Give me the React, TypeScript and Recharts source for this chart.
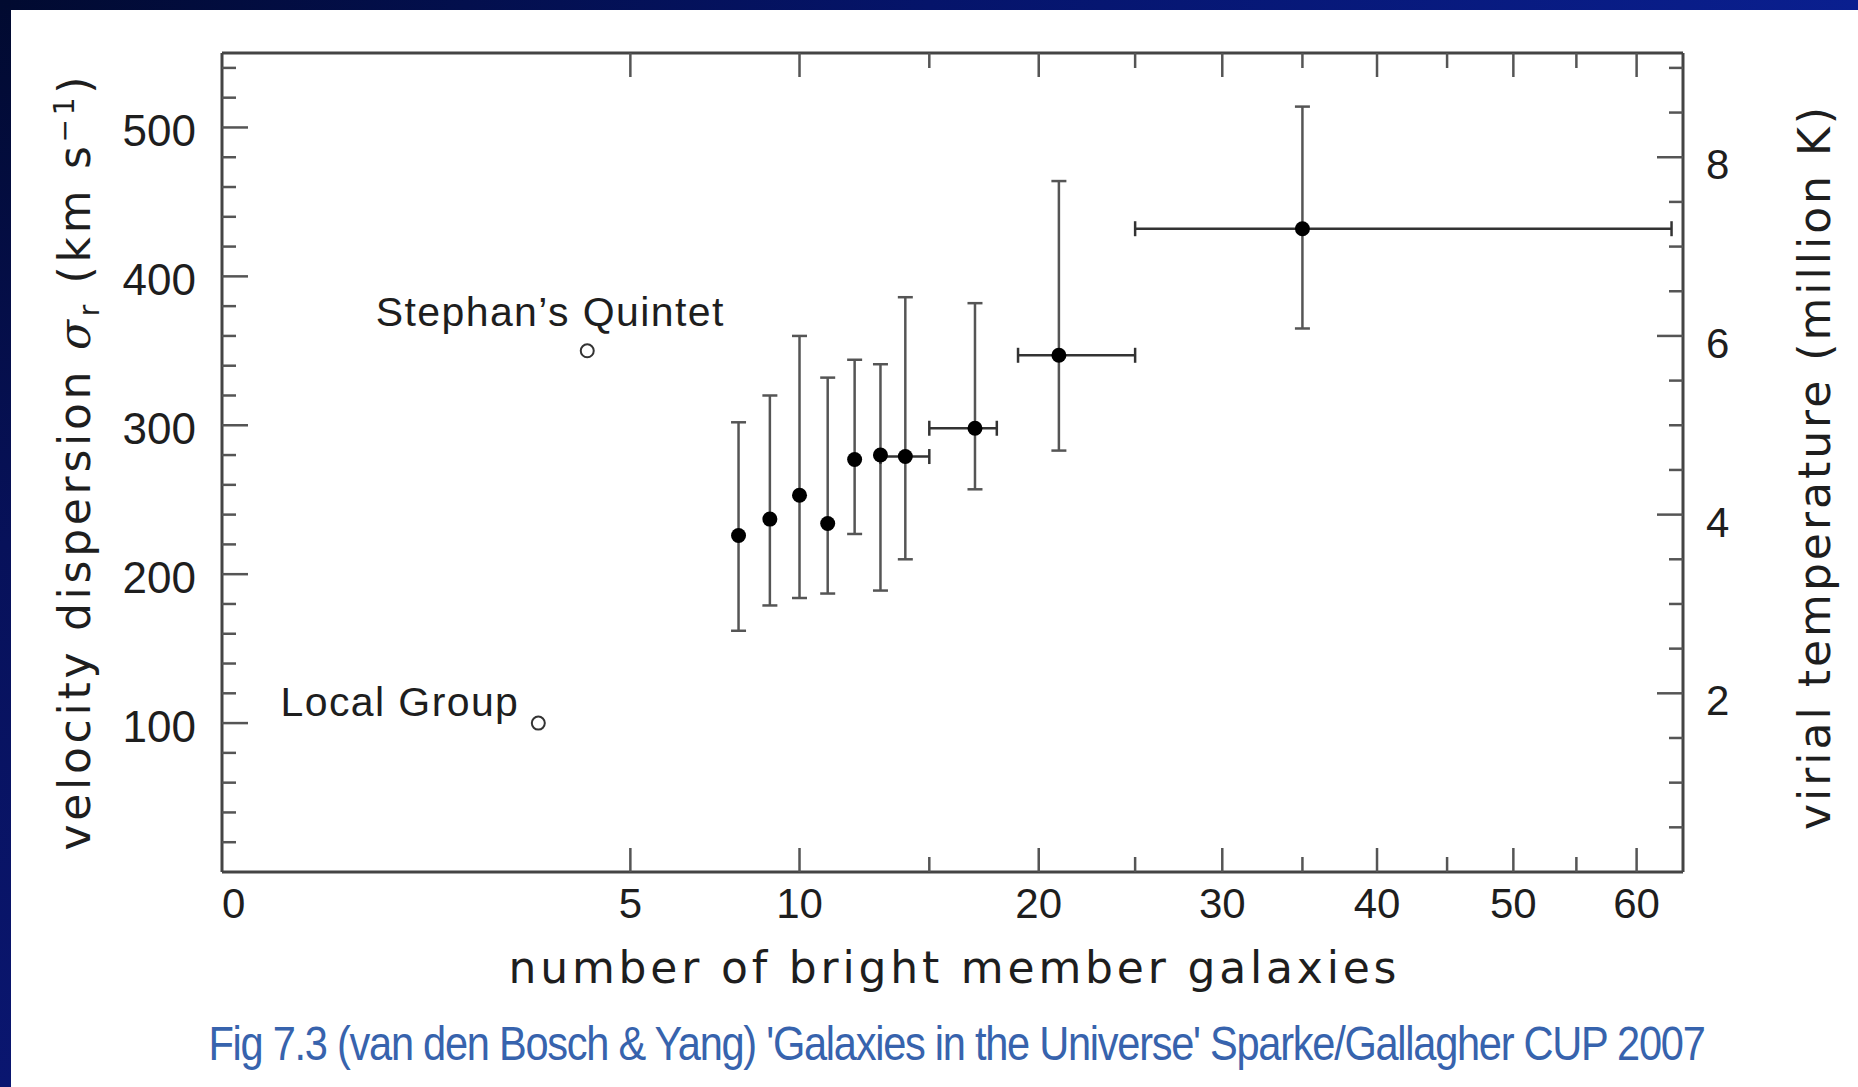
import React from 'react';
import { ComposedChart, Scatter, XAxis, YAxis, ErrorBar } from 'recharts';

// Galaxy groups binned by number of bright members
const memberCounts = [8, 9, 10, 11, 12, 13, 14, 17, 21, 35];
const dispersions = [226, 237, 253, 234, 277, 280, 279, 298, 347, 432];
const dispersionLow = [162, 179, 184, 187, 227, 189, 210, 257, 283, 365];
const dispersionHigh = [302, 320, 360, 332, 344, 341, 386, 382, 464, 514];
// bin edges in member count (only where the bin spans several counts)
const binLow: (number | null)[] = [null, null, null, null, null, null, 13, 15, 19, 25];
const binHigh: (number | null)[] = [null, null, null, null, null, null, 15, 18, 25, 63];

// well-known individual groups
const namedGroups = ['Local Group', "Stephan\u2019s Quintet"];
const namedCounts = [3, 4];
const namedDispersions = [100, 350];

// axis ticks
const countTicks = [0, 5, 10, 15, 20, 25, 30, 35, 40, 45, 50, 55, 60];
const countLabels = [0, 5, 10, 20, 30, 40, 50, 60];
const dispersionTicks = [20, 40, 60, 80, 100, 120, 140, 160, 180, 200, 220, 240, 260, 280, 300, 320, 340, 360, 380, 400, 420, 440, 460, 480, 500, 520, 540];
const dispersionLabels = [100, 200, 300, 400, 500];
const temperatureTicks = [0.5, 1, 1.5, 2, 2.5, 3, 3.5, 4, 4.5, 5, 5.5, 6, 6.5, 7, 7.5, 8, 8.5, 9];
const temperatureLabels = [2, 4, 6, 8];

const COUNT_MAX = 64;
const DISPERSION_MAX = 550;
const KMS_PER_MILLION_K = 60;

const groupData = memberCounts.map((n, i) => ({
  n,
  sigma: dispersions[i],
  sigmaErr: [dispersions[i] - dispersionLow[i], dispersionHigh[i] - dispersions[i]],
  nErr: binLow[i] == null ? undefined : [n - (binLow[i] as number), (binHigh[i] as number) - n],
}));

// same groups expressed as virial temperature, used by the mirrored top/right axes
const temperatureData = memberCounts.map((n, i) => ({ n, t: dispersions[i] / KMS_PER_MILLION_K }));

const namedData = namedGroups.map((name, i) => ({ name, n: namedCounts[i], sigma: namedDispersions[i] }));

// layout
const W = 1858;
const H = 1087;
const PLOT = { left: 222, right: 1683, top: 53, bottom: 872 };
const AXIS_W = 100;
const AXIS_H = 100;

const AXIS_COLOR = '#444';
const TICK_COLOR = '#555';
const TEXT_COLOR = '#1e1e1e';
const NUM_FONT = '"Liberation Sans", Arial, Helvetica, sans-serif';
const TITLE_FONT = '"DejaVu Sans", "Noto Sans", sans-serif';

const MAJOR = 26;
const MINOR = 14;

const BottomTick = (props: any) => {
  const { x, y, payload } = props;
  const v = payload.value;
  const major = countLabels.includes(v);
  return (
    <g>
      {v > 0 && (
        <line x1={x} x2={x} y1={y} y2={y - (major ? 24 : 15)} stroke={TICK_COLOR} strokeWidth={2.5} />
      )}
      {major && (
        <text x={x} y={y + 46} textAnchor={v === 0 ? 'start' : 'middle'} fontFamily={NUM_FONT} fontSize={42} fill={TEXT_COLOR}>
          {v}
        </text>
      )}
    </g>
  );
};

const TopTick = (props: any) => {
  const { x, y, payload } = props;
  const v = payload.value;
  if (v <= 0) return <g />;
  const major = countLabels.includes(v);
  return <line x1={x} x2={x} y1={y} y2={y + (major ? 24 : 15)} stroke={TICK_COLOR} strokeWidth={2.5} />;
};

const LeftTick = (props: any) => {
  const { x, y, payload } = props;
  const v = payload.value;
  const major = dispersionLabels.includes(v);
  return (
    <g>
      <line x1={x} x2={x + (major ? MAJOR : MINOR)} y1={y} y2={y} stroke={TICK_COLOR} strokeWidth={2.5} />
      {major && (
        <text x={x - 26} y={y + 19} textAnchor="end" fontFamily={NUM_FONT} fontSize={44} fill={TEXT_COLOR}>
          {v}
        </text>
      )}
    </g>
  );
};

const RightTick = (props: any) => {
  const { x, y, payload } = props;
  const v = payload.value;
  const major = temperatureLabels.includes(v);
  return (
    <g>
      <line x1={x} x2={x - (major ? MAJOR : MINOR)} y1={y} y2={y} stroke={TICK_COLOR} strokeWidth={2.5} />
      {major && (
        <text x={x + 23} y={y + 22} textAnchor="start" fontFamily={NUM_FONT} fontSize={42} fill={TEXT_COLOR}>
          {v}
        </text>
      )}
    </g>
  );
};

const FilledDot = (props: any) => <circle cx={props.cx} cy={props.cy} r={7.5} fill="#000" />;
const NoMark = () => <g />;

// open circle with the group's name beside it
const NamedGroupMarker = (props: any) => {
  const { cx, cy, payload } = props;
  const leftSide = payload.name === namedGroups[0];
  return (
    <g>
      <circle cx={cx} cy={cy} r={6.5} fill="#fff" stroke="#333" strokeWidth={2} />
      <text
        x={leftSide ? cx - 19 : cx - 37}
        y={leftSide ? cy - 7 : cy - 25}
        textAnchor={leftSide ? 'end' : 'middle'}
        fontFamily={NUM_FONT}
        fontSize={41}
        letterSpacing={1.4}
        fill={TEXT_COLOR}
      >
        {payload.name}
      </text>
    </g>
  );
};

export default function App() {
  const midX = (PLOT.left + PLOT.right) / 2;
  const midY = (PLOT.top + PLOT.bottom) / 2;
  return (
    <div style={{ position: 'absolute', left: 0, top: 0, width: W, height: H, background: '#fff', overflow: 'hidden' }}>
      <div style={{ position: 'absolute', left: 0, top: 0, width: W, height: 10, background: 'linear-gradient(to right, #010a30, #05146a 50%, #0a1f8f)' }} />
      <div style={{ position: 'absolute', left: 0, top: 0, width: 11, height: H, background: 'linear-gradient(to bottom, #010a30, #07115a 50%, #0a1670)' }} />
      <div style={{ position: 'absolute', left: 0, top: 0 }}>
        <ComposedChart
          width={W}
          height={H}
          margin={{ left: PLOT.left - AXIS_W, right: W - PLOT.right - AXIS_W, top: PLOT.top - 1, bottom: H - PLOT.bottom - AXIS_H }}
        >
          <XAxis
            xAxisId="count"
            dataKey="n"
            type="number"
            scale="sqrt"
            domain={[0, COUNT_MAX]}
            ticks={countTicks}
            interval={0}
            height={AXIS_H}
            tickSize={0}
            tickMargin={0}
            tickLine={false}
            axisLine={{ stroke: AXIS_COLOR, strokeWidth: 3 }}
            tick={<BottomTick />}
          />
          <XAxis
            xAxisId="countTop"
            dataKey="n"
            orientation="top"
            type="number"
            scale="sqrt"
            domain={[0, COUNT_MAX]}
            ticks={countTicks}
            interval={0}
            height={1}
            tickSize={0}
            tickMargin={0}
            tickLine={false}
            axisLine={{ stroke: AXIS_COLOR, strokeWidth: 3 }}
            tick={<TopTick />}
          />
          <YAxis
            yAxisId="sigma"
            dataKey="sigma"
            type="number"
            domain={[0, DISPERSION_MAX]}
            ticks={dispersionTicks}
            interval={0}
            width={AXIS_W}
            tickSize={0}
            tickMargin={0}
            tickLine={false}
            axisLine={{ stroke: AXIS_COLOR, strokeWidth: 3 }}
            tick={<LeftTick />}
          />
          <YAxis
            yAxisId="temp"
            dataKey="t"
            orientation="right"
            type="number"
            domain={[0, DISPERSION_MAX / KMS_PER_MILLION_K]}
            ticks={temperatureTicks}
            interval={0}
            width={AXIS_W}
            tickSize={0}
            tickMargin={0}
            tickLine={false}
            axisLine={{ stroke: AXIS_COLOR, strokeWidth: 3 }}
            tick={<RightTick />}
          />
          <Scatter
            data={temperatureData}
            xAxisId="countTop"
            yAxisId="temp"
            dataKey="t"
            shape={<NoMark />}
            isAnimationActive={false}
          />
          <Scatter
            data={groupData}
            xAxisId="count"
            yAxisId="sigma"
            dataKey="sigma"
            shape={<FilledDot />}
            isAnimationActive={false}
          >
            <ErrorBar dataKey="sigmaErr" direction="y" width={7.5} stroke="#555" strokeWidth={2.5} isAnimationActive={false} />
            <ErrorBar dataKey="nErr" direction="x" width={7.5} stroke="#333" strokeWidth={2.5} isAnimationActive={false} />
          </Scatter>
          <Scatter
            data={namedData}
            xAxisId="count"
            yAxisId="sigma"
            dataKey="sigma"
            shape={<NamedGroupMarker />}
            isAnimationActive={false}
          />
        </ComposedChart>
      </div>
      <svg width={W} height={H} style={{ position: 'absolute', left: 0, top: 0, pointerEvents: 'none' }}>
        <text
          x={midX}
          y={983}
          textAnchor="middle"
          fontFamily={TITLE_FONT}
          fontSize={44}
          fill={TEXT_COLOR}
          textLength={888}
          lengthAdjust="spacing"
        >
          number of bright member galaxies
        </text>
        <text
          transform={`translate(90, ${midY + 1}) rotate(-90)`}
          textAnchor="middle"
          fontFamily={TITLE_FONT}
          fontSize={44}
          fill={TEXT_COLOR}
          textLength={774}
          lengthAdjust="spacing"
        >
          velocity dispersion{' '}
          <tspan fontFamily="'DejaVu Serif', serif" fontStyle="italic">σ</tspan>
          <tspan dy={9} fontSize={28}>r</tspan>
          <tspan dy={-9}>{'  (km s'}</tspan>
          <tspan dy={-16} fontSize={28}>−1</tspan>
          <tspan dy={16}>)</tspan>
        </text>
        <text
          transform={`translate(1830, ${midY + 6}) rotate(-90)`}
          textAnchor="middle"
          fontFamily={TITLE_FONT}
          fontSize={44}
          fill={TEXT_COLOR}
          textLength={723}
          lengthAdjust="spacing"
        >
          virial temperature  (million K)
        </text>
        {/* condensed caption: regular face squeezed horizontally */}
        <text
          transform={`translate(${(207 + 1706) / 2}, 1060) scale(0.849, 1)`}
          textAnchor="middle"
          fontFamily={NUM_FONT}
          fontSize={49}
          letterSpacing={-1.5}
          fill="#3763ad"
        >
          Fig 7.3 (van den Bosch &amp; Yang) 'Galaxies in the Universe' Sparke/Gallagher CUP 2007
        </text>
      </svg>
    </div>
  );
}
